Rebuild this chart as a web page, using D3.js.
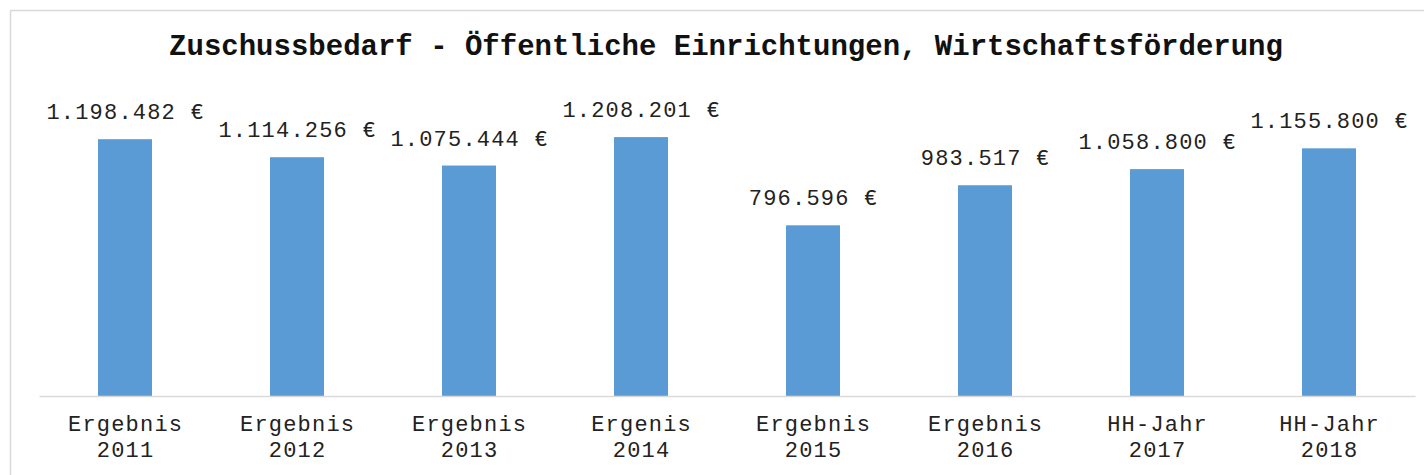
<!DOCTYPE html>
<html>
<head>
<meta charset="utf-8">
<script src="https://cdn.jsdelivr.net/npm/d3@7"></script>
<style>
  body { margin: 0; background: #fff; }
  svg { display: block; }
</style>
</head>
<body>
<div id="chart"></div>
<script>
// Data
var categories = ["Ergebnis 2011", "Ergebnis 2012", "Ergebnis 2013", "Ergenis 2014",
  "Ergebnis 2015", "Ergebnis 2016", "HH-Jahr 2017", "HH-Jahr 2018"];
var values = [1198482, 1114256, 1075444, 1208201, 796596, 983517, 1058800, 1155800];
var chartTitle = "Zuschussbedarf - Öffentliche Einrichtungen, Wirtschaftsförderung";

var svgWidth = 1424;
var svgHeight = 475;

var svg = d3.select("#chart")
  .append("svg")
  .attr("width", svgWidth)
  .attr("height", svgHeight);

// outer frame (only top and left visible)
svg.append("rect")
  .attr("x", 10.5)
  .attr("y", 10.5)
  .attr("width", 1440)
  .attr("height", 500)
  .attr("fill", "none")
  .attr("stroke", "#d9d9d9")
  .attr("stroke-width", 1.5);

var plotLeft = 39, plotRight = 1415, plotBottom = 396, plotTop = 96;

var x = d3.scaleBand()
  .domain(categories)
  .range([plotLeft, plotRight])
  .paddingInner(0.686)
  .paddingOuter(0.343);

var y = d3.scaleLinear()
  .domain([0, 1400000])
  .range([plotBottom, plotTop]);

var de = d3.formatLocale({decimal: ",", thousands: ".", grouping: [3], currency: ["", " €"]});
var fmt = de.format(",.0f");

var monoFont = "'Liberation Mono', 'Courier New', monospace";

// title
svg.append("text")
  .attr("x", 726)
  .attr("y", 55)
  .attr("text-anchor", "middle")
  .attr("font-family", monoFont)
  .attr("font-weight", "bold")
  .attr("font-size", "29px")
  .attr("fill", "#111")
  .text(chartTitle);

// bars
svg.selectAll("rect.bar")
  .data(values)
  .enter()
  .append("rect")
  .attr("class", "bar")
  .attr("x", (d, i) => x(categories[i]))
  .attr("y", d => y(d))
  .attr("width", x.bandwidth())
  .attr("height", d => plotBottom - y(d))
  .attr("fill", "#5b9bd5");

// axis line
var xAxis = svg.append("g")
  .attr("transform", `translate(0, ${plotBottom})`)
  .call(d3.axisBottom(x).tickSize(0).tickFormat(""));
xAxis.select(".domain").attr("stroke", "#d9d9d9").attr("stroke-width", 1.5);

// category labels, two lines
var catLabels = svg.selectAll("text.cat")
  .data(categories)
  .enter()
  .append("text")
  .attr("class", "cat")
  .attr("text-anchor", "middle")
  .attr("font-family", monoFont)
  .attr("font-size", "22px")
  .attr("letter-spacing", "1.2px")
  .attr("fill", "#222");
catLabels.each(function(d) {
  var parts = d.split(" ");
  var cx = x(d) + x.bandwidth() / 2;
  var t = d3.select(this);
  parts.forEach(function(p, k) {
    t.append("tspan")
      .attr("x", cx + 0.6)
      .attr("y", 431 + k * 26)
      .text(p);
  });
});

// value labels
svg.selectAll("text.val")
  .data(values)
  .enter()
  .append("text")
  .attr("class", "val")
  .attr("x", (d, i) => x(categories[i]) + x.bandwidth() / 2 + 0.6)
  .attr("y", d => y(d) - 20)
  .attr("text-anchor", "middle")
  .attr("font-family", monoFont)
  .attr("font-size", "22px")
  .attr("letter-spacing", "1.2px")
  .attr("fill", "#222")
  .text(d => fmt(d) + " €");
</script>
</body>
</html>
